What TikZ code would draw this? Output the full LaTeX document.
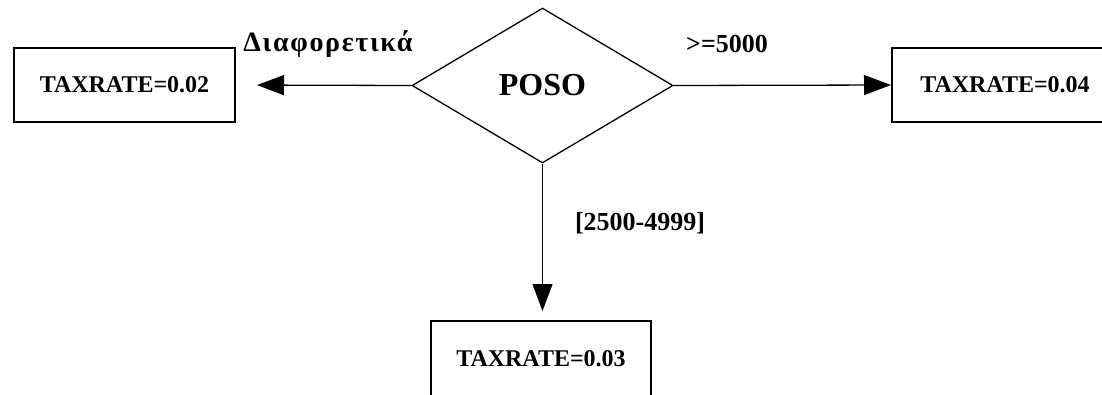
\documentclass[tikz,border=0pt]{standalone}
\usepackage{fontspec}
\setmainfont{Liberation Serif}
\usetikzlibrary{shapes.geometric,arrows.meta}
\begin{document}
\begin{tikzpicture}[x=1pt,y=-1pt,
  box/.style={draw,line width=2pt,rectangle,inner sep=0pt,font=\bfseries\fontsize{24}{28}\selectfont},
  dec/.style={draw,line width=1.3pt,diamond,inner sep=0pt,minimum width=261pt,minimum height=155pt,font=\bfseries\fontsize{32}{36}\selectfont},
  arr/.style={line width=1.3pt,-{Triangle[length=27pt,width=20pt]}},
  lbl/.style={anchor=base,inner sep=0pt,font=\bfseries\fontsize{26}{30}\selectfont}]
\useasboundingbox (0,0) rectangle (1102,394);
\clip (0,0) rectangle (1102,394);
\node[dec] (d) at (542.5,85.5) {POSO};
\node[box,minimum width=221pt,minimum height=74pt] (L) at (124.5,85) {TAXRATE=0.02};
\node[box,minimum width=226pt,minimum height=74pt] (R) at (1005,85) {TAXRATE=0.04};
\node[box,minimum width=220pt,minimum height=76pt] (B) at (541,359) {TAXRATE=0.03};
\draw[arr,shorten >=21pt] (d.west) -- (L.east);
\draw[arr] (d.east) -- (R.west);
\draw[arr,shorten >=9pt] (d.south) -- (d.south |- B.north);
\node[lbl,font=\bfseries\fontsize{28}{32}\selectfont] (l1) at (328,51) {\addfontfeature{LetterSpace=6}Διαφορετικά};
\node[lbl] (l2) at (727,52) {>=5000};
\node[lbl] (l3) at (640,230) {[2500-4999]};
\end{tikzpicture}
\end{document}
